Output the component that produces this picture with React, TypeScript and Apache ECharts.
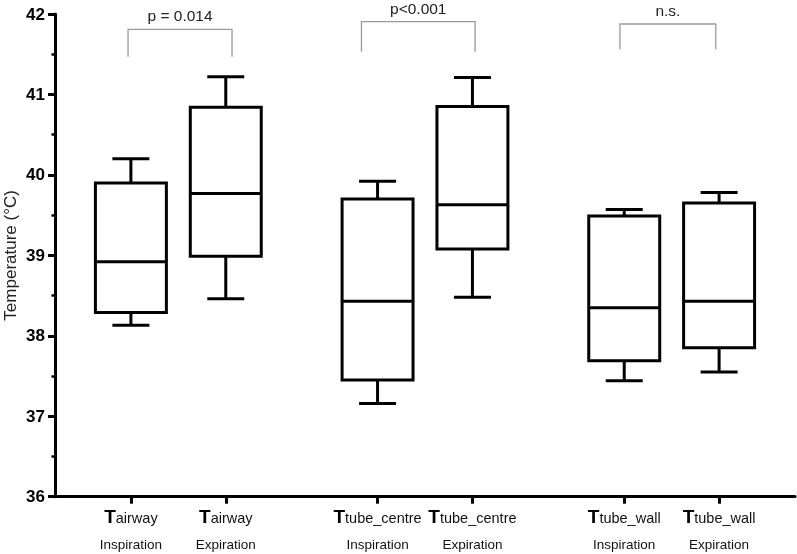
import React, { useEffect, useRef } from "react";
import * as echarts from "echarts";

// ---- data ----
const subscripts = ["airway", "airway", "tube_centre", "tube_centre", "tube_wall", "tube_wall"];
const phases = ["Inspiration", "Expiration", "Inspiration", "Expiration", "Inspiration", "Expiration"];
const positions = [1, 2, 3.6, 4.6, 6.2, 7.2];
const mins = [38.13, 38.46, 37.16, 38.48, 37.44, 37.55];
const q1s = [38.29, 38.99, 37.45, 39.08, 37.69, 37.85];
const medians = [38.92, 39.77, 38.43, 39.63, 38.35, 38.43];
const q3s = [39.9, 40.84, 39.7, 40.85, 39.49, 39.65];
const maxs = [40.2, 41.22, 39.92, 41.21, 39.57, 39.78];

const bracketLabels = ["p = 0.014", "p<0.001", "n.s."];
const bracketLeft = [0.97, 3.43, 6.155];
const bracketRight = [2.066, 4.628, 7.165];
const bracketTop = [41.81, 41.904, 41.876];
const bracketBottom = [41.469, 41.531, 41.561];

const FONT = "'Liberation Sans', Arial, Helvetica, sans-serif";
const BOX_W = 0.748;
const CAP_W = 0.39;

export default function App() {
  const ref = useRef<HTMLDivElement>(null);
  useEffect(() => {
    if (!ref.current) return;
    const chart = echarts.init(ref.current, undefined, { renderer: "svg" });
    const boxData = positions.map((p, i) => [p, mins[i], q1s[i], medians[i], q3s[i], maxs[i]]);
    const bracketData = bracketLabels.map((_, i) => [bracketLeft[i], bracketRight[i], bracketTop[i], bracketBottom[i]]);
    const lineStyle = { stroke: "#000", lineWidth: 3, fill: null as any };

    chart.setOption({
      animation: false,
      grid: { left: 55, right: 2, top: 14, bottom: 57.3, containLabel: false, outerBoundsMode: "none" },
      xAxis: {
        type: "value",
        min: 0.2,
        max: 8,
        splitLine: { show: false },
        axisLine: { onZero: false, lineStyle: { color: "#000", width: 3 } },
        axisTick: { show: true, customValues: positions, length: 7, lineStyle: { color: "#000", width: 3 } },
        axisLabel: {
          customValues: positions,
          margin: 9,
          hideOverlap: false,
          formatter: (v: number) => {
            const i = positions.findIndex((p) => Math.abs(p - v) < 1e-6);
            if (i < 0) return "";
            return `{t|T}{s|${subscripts[i]}}\n{n|${phases[i]}}`;
          },
          rich: {
            t: { fontSize: 19, fontWeight: "bold", lineHeight: 20, verticalAlign: "bottom", color: "#000", fontFamily: FONT },
            s: { fontSize: 14.5, lineHeight: 4, verticalAlign: "bottom", color: "#111", fontFamily: FONT },
            n: { fontSize: 13.5, lineHeight: 37, color: "#111", fontFamily: FONT },
          },
        },
      },
      yAxis: {
        type: "value",
        min: 36,
        max: 42,
        interval: 1,
        name: "Temperature (°C)",
        nameLocation: "middle",
        nameRotate: 90,
        nameGap: 36,
        nameMoveOverlap: false,
        nameTextStyle: { fontSize: 17, color: "#222", fontFamily: FONT },
        splitLine: { show: false },
        axisLine: { show: true, onZero: false, lineStyle: { color: "#000", width: 3 } },
        axisTick: { show: true, length: 7, lineStyle: { color: "#000", width: 3 } },
        minorTick: { show: true, splitNumber: 2, length: 3.5, lineStyle: { color: "#000", width: 2.5 } },
        axisLabel: { fontSize: 17, fontWeight: "bold", color: "#000", margin: 10, fontFamily: FONT },
      },
      series: [
        {
          type: "custom",
          data: boxData,
          encode: { x: 0, y: [1, 2, 3, 4, 5] },
          renderItem: (params: any, api: any) => {
            const x = api.value(0);
            const pMin = api.coord([x, api.value(1)]);
            const pQ1 = api.coord([x, api.value(2)]);
            const pMed = api.coord([x, api.value(3)]);
            const pQ3 = api.coord([x, api.value(4)]);
            const pMax = api.coord([x, api.value(5)]);
            const half = api.size([BOX_W, 0])[0] / 2;
            const cap = api.size([CAP_W, 0])[0] / 2;
            const cx = pMin[0];
            return {
              type: "group",
              children: [
                { type: "line", shape: { x1: cx, y1: pQ3[1], x2: cx, y2: pMax[1] }, style: lineStyle },
                { type: "line", shape: { x1: cx - cap, y1: pMax[1], x2: cx + cap, y2: pMax[1] }, style: lineStyle },
                { type: "line", shape: { x1: cx, y1: pQ1[1], x2: cx, y2: pMin[1] }, style: lineStyle },
                { type: "line", shape: { x1: cx - cap, y1: pMin[1], x2: cx + cap, y2: pMin[1] }, style: lineStyle },
                {
                  type: "rect",
                  shape: { x: cx - half, y: pQ3[1], width: 2 * half, height: pQ1[1] - pQ3[1] },
                  style: { fill: "#fff", stroke: "#000", lineWidth: 3, lineJoin: "miter" },
                },
                { type: "line", shape: { x1: cx - half, y1: pMed[1], x2: cx + half, y2: pMed[1] }, style: lineStyle },
              ],
            };
          },
        },
        {
          type: "custom",
          data: bracketData,
          clip: false,
          encode: { x: [0, 1], y: [2, 3] },
          renderItem: (params: any, api: any) => {
            const a = api.coord([api.value(0), api.value(2)]);
            const b = api.coord([api.value(1), api.value(3)]);
            return {
              type: "group",
              children: [
                {
                  type: "polyline",
                  shape: { points: [[a[0], b[1]], [a[0], a[1]], [b[0], a[1]], [b[0], b[1]]] },
                  style: { stroke: "#9a9a9a", lineWidth: 1.3, fill: null },
                },
                {
                  type: "text",
                  x: (a[0] + b[0]) / 2,
                  y: a[1] - 13.5,
                  style: {
                    text: bracketLabels[params.dataIndex],
                    fontSize: 15.5,
                    fontFamily: FONT,
                    fill: "#222",
                    align: "center",
                    verticalAlign: "middle",
                  },
                },
              ],
            };
          },
        },
      ],
    });
    return () => chart.dispose();
  }, []);
  return <div ref={ref} style={{ position: "fixed", left: 0, top: 0, width: 797, height: 554 }} />;
}
